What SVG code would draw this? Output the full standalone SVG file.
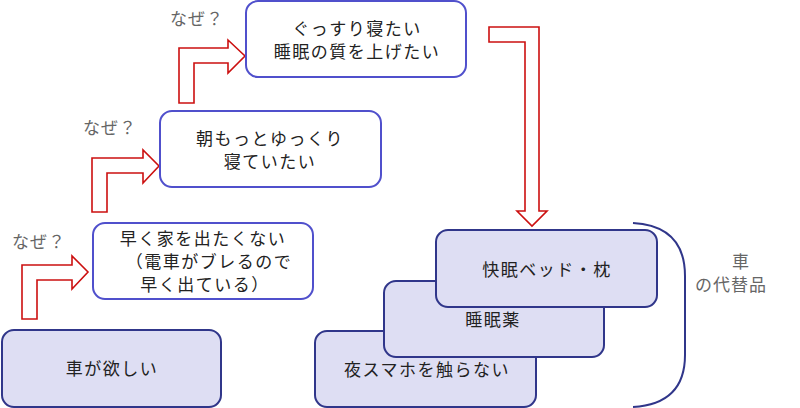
<svg xmlns="http://www.w3.org/2000/svg" width="800" height="408" viewBox="0 0 800 408">
<style>
.t{font-family:"Noto Sans CJK JP","Noto Sans",sans-serif;font-size:17px;fill:#222;text-anchor:middle;dominant-baseline:central;letter-spacing:1.5px}
.g{font-family:"Noto Sans CJK JP","Noto Sans",sans-serif;font-size:17px;fill:#666;dominant-baseline:central;letter-spacing:1px}
.wb{fill:#fff;stroke:#5050CC;stroke-width:2}
.fb{fill:#DEDEF3;stroke:#30368A;stroke-width:2}
.ar{fill:#fff;stroke:#CC1010;stroke-width:1.6;stroke-linejoin:miter}
</style>
<rect width="800" height="408" fill="#fff"/>
<g id="connectors">
<polygon class="ar" points="22,319 22,265 72,265 72,256 88,272 72,289 72,280 37,280 37,319"/>
<polygon class="ar" points="92,212 92,158 143,158 143,150 159,166 143,183 143,173 107,173 107,212"/>
<polygon class="ar" points="179,103 179,48 228,48 228,40 245,56 228,73 228,63 194,63 194,103"/>
<polygon class="ar" points="489,27 539,27 539,211 547,211 532,226 517,211 525,211 525,42 489,42"/>
</g>
<g id="label-naze1"><text class="g" x="12" y="240">なぜ？</text></g>
<g id="label-naze2"><text class="g" x="83" y="126">なぜ？</text></g>
<g id="label-naze3"><text class="g" x="170" y="17">なぜ？</text></g>
<g id="node-car">
<rect class="fb" x="2" y="330" width="219" height="77" rx="12"/>
<text class="t" x="112" y="367">車が欲しい</text>
</g>
<g id="node-early">
<rect class="wb" x="93" y="223" width="220" height="76" rx="12"/>
<text class="t" x="203" y="237">早く家を出たくない</text>
<text class="t" x="209" y="260">（電車がブレるので</text>
<text class="t" x="205" y="283">早く出ている）</text>
</g>
<g id="node-morning">
<rect class="wb" x="160" y="111" width="221" height="76" rx="12"/>
<text class="t" x="270" y="137">朝もっとゆっくり</text>
<text class="t" x="270" y="160">寝ていたい</text>
</g>
<g id="node-sleep">
<rect class="wb" x="246" y="1" width="220" height="76" rx="12"/>
<text class="t" x="357" y="27">ぐっすり寝たい</text>
<text class="t" x="357" y="50">睡眠の質を上げたい</text>
</g>
<g id="node-phone">
<rect class="fb" x="315" y="331" width="221" height="76" rx="12"/>
<text class="t" x="427" y="368">夜スマホを触らない</text>
</g>
<g id="node-pill">
<rect class="fb" x="384" y="281" width="220" height="76" rx="12"/>
<text class="t" x="493" y="318">睡眠薬</text>
</g>
<g id="node-bed">
<rect class="fb" x="436" y="230" width="221" height="77" rx="12"/>
<text class="t" x="547" y="268">快眠ベッド・枕</text>
</g>
<g id="bracket">
<path d="M633,223 Q685,226 685,276 L685,355 Q685,404 633,407" fill="none" stroke="#30368A" stroke-width="2"/>
</g>
<g id="label-alt">
<text class="g" x="741" y="260" text-anchor="middle">車</text>
<text class="g" x="731" y="283" text-anchor="middle">の代替品</text>
</g>
</svg>
